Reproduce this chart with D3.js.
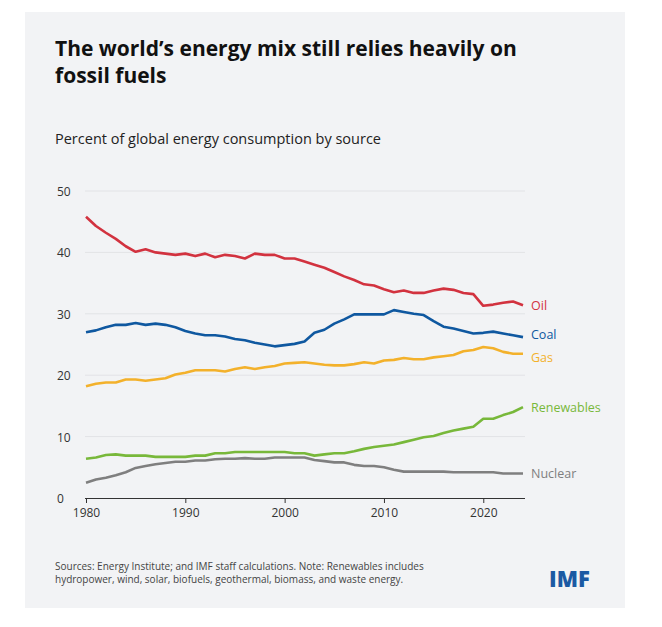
<!DOCTYPE html>
<html><head><meta charset="utf-8">
<script src="https://cdn.jsdelivr.net/npm/d3@7"></script>
<style>body{margin:0;background:#fff;font-family:"Open Sans",sans-serif}</style>
</head><body><svg id="chart" width="662" height="627"></svg>
<script>
const years = d3.range(1980, 2025);
const oil = [45.8,44.3,43.2,42.2,41.0,40.1,40.5,40.0,39.8,39.6,39.8,39.4,39.8,39.2,39.6,39.4,39.0,39.8,39.6,39.6,39.0,39.0,38.5,38.0,37.5,36.8,36.1,35.5,34.8,34.6,34.0,33.5,33.8,33.4,33.4,33.8,34.1,33.9,33.4,33.2,31.3,31.5,31.8,32.0,31.4];
const coal = [27.0,27.3,27.8,28.2,28.2,28.5,28.2,28.4,28.2,27.8,27.2,26.8,26.5,26.5,26.3,25.9,25.7,25.3,25.0,24.7,24.9,25.1,25.5,26.9,27.4,28.4,29.1,29.9,29.9,29.9,29.9,30.6,30.3,30.0,29.8,28.8,27.9,27.6,27.2,26.8,26.9,27.1,26.8,26.5,26.2];
const gas = [18.2,18.6,18.8,18.8,19.3,19.3,19.1,19.3,19.5,20.1,20.4,20.8,20.8,20.8,20.6,21.0,21.3,21.0,21.3,21.5,21.9,22.0,22.1,21.9,21.7,21.6,21.6,21.8,22.1,21.9,22.4,22.5,22.8,22.6,22.6,22.9,23.1,23.3,23.9,24.1,24.6,24.4,23.8,23.5,23.5];
const renewables = [6.4,6.6,7.0,7.1,6.9,6.9,6.9,6.7,6.7,6.7,6.7,6.9,6.9,7.3,7.3,7.5,7.5,7.5,7.5,7.5,7.5,7.3,7.3,6.9,7.1,7.3,7.3,7.6,8.0,8.3,8.5,8.7,9.1,9.5,9.9,10.1,10.6,11.0,11.3,11.6,12.9,12.9,13.5,14.0,14.8];
const nuclear = [2.5,3.0,3.3,3.7,4.2,4.9,5.2,5.5,5.7,5.9,5.9,6.1,6.1,6.3,6.4,6.4,6.5,6.4,6.4,6.6,6.6,6.6,6.6,6.2,6.0,5.8,5.8,5.4,5.2,5.2,5.0,4.6,4.3,4.3,4.3,4.3,4.3,4.2,4.2,4.2,4.2,4.2,4.0,4.0,4.0];
const seriesNames = ['Oil','Coal','Gas','Renewables','Nuclear'];
const seriesValues = [oil, coal, gas, renewables, nuclear];
const seriesColors = ['#d2323f','#0f58a0','#f3b12b','#78b83a','#7f7f7f'];
const labelOffsets = [0, -3, 3, 0, 0];
const xTicks = [1980,1990,2000,2010,2020];
const yTicks = [0,10,20,30,40,50];

const svg = d3.select('#chart');
svg.append('rect').attr('x',25).attr('y',12).attr('width',600).attr('height',596).attr('fill','#f2f3f5');

svg.append('text').attr('x',55).attr('y',56).attr('font-size',21).attr('font-weight',700).attr('fill','#111')
  .text('The world\u2019s energy mix still relies heavily on');
svg.append('text').attr('x',55).attr('y',83).attr('font-size',21).attr('font-weight',700).attr('fill','#111')
  .text('fossil fuels');
svg.append('text').attr('x',55).attr('y',144).attr('font-size',14.5).attr('fill','#222')
  .text('Percent of global energy consumption by source');

const x = d3.scaleLinear().domain([1980, 2024]).range([86, 523]);
const y = d3.scaleLinear().domain([0, 50]).range([498, 191]);

const g = svg.append('g');
g.selectAll('.grid').data(yTicks.filter(d => d > 0)).join('line')
  .attr('x1',85).attr('x2',525).attr('y1',d=>y(d)).attr('y2',d=>y(d))
  .attr('stroke','#e2e3e6').attr('stroke-width',1);
g.selectAll('.ylab').data(yTicks).join('text')
  .attr('x',57).attr('y',d=>y(d)+5).attr('font-size',12).attr('fill','#333').text(d=>d);

const xAxis = svg.append('g').attr('transform','translate(0,498)')
  .call(d3.axisBottom(x).tickValues(xTicks).tickFormat(d3.format('d')).tickSize(5).tickSizeOuter(0));
xAxis.select('.domain').attr('stroke','#333').attr('d','M85,0.5H525');
xAxis.selectAll('line').attr('stroke','#333');
xAxis.selectAll('text').attr('font-size',12).attr('fill','#333').attr('font-family','"Open Sans",sans-serif').attr('dy','0.9em');

const line = d3.line().x((d,i)=>x(years[i])).y(d=>y(d));
seriesValues.forEach((vals, k) => {
  svg.append('path').datum(vals).attr('d', line).attr('fill','none')
    .attr('stroke', seriesColors[k]).attr('stroke-width',2.6).attr('stroke-linejoin','round');
  svg.append('text').attr('x',531).attr('y',y(vals[vals.length-1])+5+labelOffsets[k])
    .attr('font-size',12.5).attr('fill',seriesColors[k]).text(seriesNames[k]);
});

svg.append('text').attr('x',55).attr('y',570).attr('font-size',10).attr('fill','#444')
  .text('Sources: Energy Institute; and IMF staff calculations. Note: Renewables includes');
svg.append('text').attr('x',55).attr('y',583).attr('font-size',10).attr('fill','#444')
  .text('hydropower, wind, solar, biofuels, geothermal, biomass, and waste energy.');
svg.append('text').attr('x',549).attr('y',587).attr('font-size',22).attr('font-weight',800)
  .attr('fill','#1b5aa3').text('IMF');
</script></body></html>
